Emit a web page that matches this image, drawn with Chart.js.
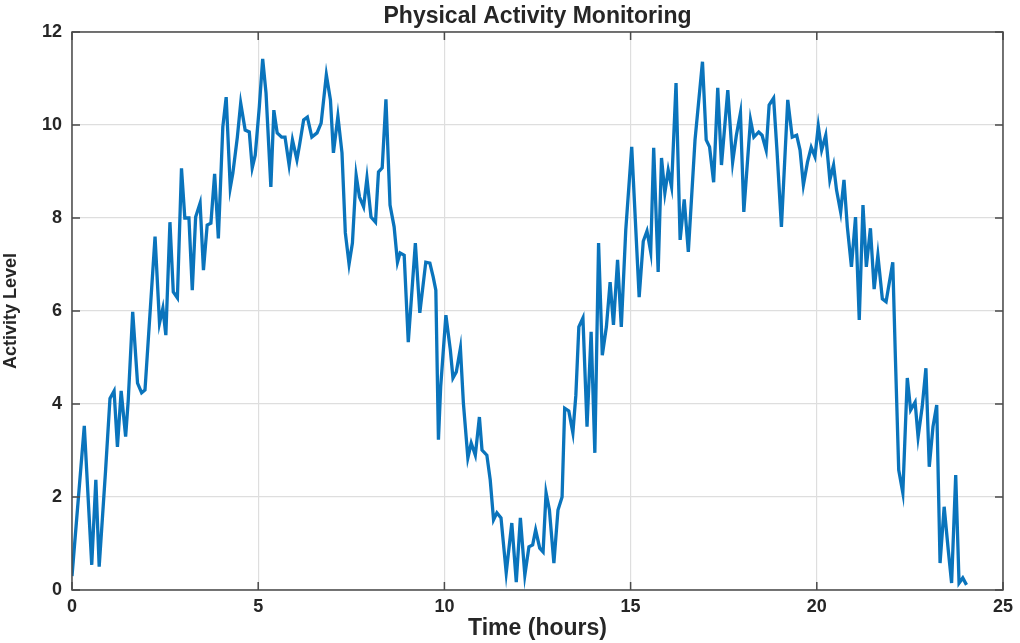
<!DOCTYPE html>
<html>
<head>
<meta charset="utf-8">
<script src="https://cdn.jsdelivr.net/npm/chart.js@4.4.1/dist/chart.umd.min.js"></script>
<style>
    html, body { margin: 0; padding: 0; background: #fff; }
    #wrap { width: 1020px; height: 643px; }
</style>
</head>
<body>
<div id="wrap"><canvas id="activityChart" width="1020" height="643"></canvas></div>
<script>
// time (hours) of each sample
const hours = [
    0.00, 0.33, 0.53, 0.64, 0.73, 0.90, 1.02, 1.13, 1.22, 1.32, 1.44, 1.51, 1.63, 1.76, 1.87, 1.96,
    2.23, 2.35, 2.44, 2.52, 2.63, 2.72, 2.83, 2.94, 3.03, 3.14, 3.23, 3.32, 3.44, 3.53, 3.63, 3.73,
    3.83, 3.93, 4.05, 4.14, 4.25, 4.32, 4.44, 4.53, 4.65, 4.76, 4.84, 4.92, 5.03, 5.12, 5.21, 5.34,
    5.42, 5.51, 5.63, 5.72, 5.83, 5.92, 6.04, 6.11, 6.22, 6.32, 6.44, 6.58, 6.69, 6.83, 6.94, 7.02,
    7.14, 7.25, 7.34, 7.44, 7.53, 7.63, 7.72, 7.83, 7.92, 8.03, 8.15, 8.23, 8.33, 8.43, 8.54, 8.65,
    8.74, 8.81, 8.92, 9.03, 9.22, 9.34, 9.50, 9.61, 9.70, 9.77, 9.84, 9.90, 10.04, 10.16, 10.23, 10.32,
    10.43, 10.51, 10.63, 10.72, 10.83, 10.94, 11.01, 11.14, 11.23, 11.32, 11.41, 11.52, 11.66, 11.81, 11.93, 12.04,
    12.16, 12.27, 12.37, 12.45, 12.56, 12.65, 12.73, 12.82, 12.94, 13.05, 13.16, 13.23, 13.34, 13.45, 13.53, 13.61,
    13.72, 13.83, 13.94, 14.04, 14.14, 14.24, 14.35, 14.45, 14.54, 14.65, 14.75, 14.87, 15.03, 15.23, 15.34, 15.44,
    15.54, 15.62, 15.74, 15.83, 15.92, 16.01, 16.10, 16.22, 16.33, 16.44, 16.55, 16.73, 16.93, 17.03, 17.12, 17.23,
    17.34, 17.44, 17.61, 17.74, 17.84, 17.95, 18.04, 18.22, 18.31, 18.44, 18.53, 18.64, 18.72, 18.84, 18.93, 19.05,
    19.22, 19.34, 19.46, 19.55, 19.64, 19.75, 19.85, 19.95, 20.04, 20.13, 20.24, 20.35, 20.45, 20.53, 20.64, 20.73,
    20.82, 20.93, 21.04, 21.14, 21.24, 21.33, 21.44, 21.54, 21.64, 21.76, 21.86, 22.04, 22.11, 22.20, 22.31, 22.43,
    22.52, 22.64, 22.72, 22.83, 22.93, 23.02, 23.12, 23.22, 23.31, 23.42, 23.53, 23.62, 23.73, 23.82, 23.92, 24.02
];

// activity level at each of those times
const activity = [
    0.30, 3.53, 0.54, 2.37, 0.50, 2.55, 4.12, 4.28, 3.08, 4.28, 3.30, 4.08, 5.98, 4.45, 4.24, 4.30,
    7.60, 5.74, 6.06, 5.48, 7.91, 6.41, 6.28, 9.07, 8.00, 8.00, 6.45, 8.02, 8.32, 6.88, 7.85, 7.89,
    8.95, 7.56, 9.96, 10.60, 8.65, 8.97, 9.74, 10.47, 9.89, 9.85, 9.08, 9.35, 10.39, 11.42, 10.69, 8.67,
    10.32, 9.83, 9.74, 9.74, 9.14, 9.68, 9.25, 9.57, 10.11, 10.17, 9.74, 9.83, 10.04, 11.08, 10.54, 9.40,
    10.19, 9.40, 7.68, 7.01, 7.46, 8.92, 8.45, 8.24, 8.86, 8.02, 7.91, 8.99, 9.08, 10.55, 8.28, 7.81,
    7.05, 7.25, 7.20, 5.33, 7.46, 5.96, 7.05, 7.03, 6.73, 6.45, 3.23, 4.37, 5.91, 5.16, 4.56, 4.69,
    5.20, 4.02, 2.84, 3.16, 2.90, 3.72, 3.01, 2.90, 2.37, 1.51, 1.66, 1.55, 0.37, 1.44, 0.17, 1.55,
    0.32, 0.93, 0.97, 1.29, 0.90, 0.82, 2.09, 1.72, 0.58, 1.72, 2.00, 3.91, 3.85, 3.38, 4.19, 5.66,
    5.85, 3.51, 5.55, 2.95, 7.46, 5.05, 5.66, 6.62, 5.70, 7.10, 5.66, 7.74, 9.53, 6.30, 7.50, 7.72,
    7.27, 9.51, 6.84, 9.29, 8.54, 9.03, 8.67, 10.90, 7.53, 8.40, 7.27, 9.68, 11.36, 9.68, 9.53, 8.77,
    10.80, 9.14, 10.75, 9.20, 9.78, 10.26, 8.13, 10.11, 9.74, 9.85, 9.78, 9.46, 10.43, 10.58, 9.46, 7.81,
    10.54, 9.74, 9.78, 9.46, 8.71, 9.20, 9.52, 9.32, 9.98, 9.46, 9.78, 8.82, 9.14, 8.60, 8.13, 8.82,
    7.81, 6.95, 8.02, 5.81, 8.28, 6.95, 7.78, 6.47, 7.20, 6.26, 6.20, 7.05, 5.01, 2.58, 2.09, 4.56,
    3.87, 4.04, 3.29, 3.94, 4.77, 2.65, 3.51, 3.98, 0.58, 1.79, 0.86, 0.15, 2.47, 0.15, 0.26, 0.11
];

const xTicks = [0, 5, 10, 15, 20, 25];
const yTicks = [0, 2, 4, 6, 8, 10, 12];
const chartTitle = 'Physical Activity Monitoring';

const textColor = '#262626';
const frameColor = '#4a4a4a';
const fontFamily = '"Liberation Sans", Arial, sans-serif';

// box around the axes, inward tick marks on all four sides, title centred on the axes (matlab look)
const boxPlugin = {
    id: 'box',
    afterDatasetsDraw(chart) {
        const { ctx, chartArea: a, scales } = chart;
        const len = 8;
        ctx.save();
        ctx.strokeStyle = frameColor;
        ctx.lineWidth = 1.5;
        ctx.strokeRect(a.left, a.top, a.right - a.left, a.bottom - a.top);
        ctx.beginPath();
        xTicks.forEach(v => {
            const px = scales.x.getPixelForValue(v);
            ctx.moveTo(px, a.bottom); ctx.lineTo(px, a.bottom - len);
            ctx.moveTo(px, a.top); ctx.lineTo(px, a.top + len);
        });
        yTicks.forEach(v => {
            const py = scales.y.getPixelForValue(v);
            ctx.moveTo(a.left, py); ctx.lineTo(a.left + len, py);
            ctx.moveTo(a.right, py); ctx.lineTo(a.right - len, py);
        });
        ctx.stroke();

        ctx.fillStyle = textColor;
        ctx.font = 'bold 23px ' + fontFamily;
        ctx.textAlign = 'center';
        ctx.textBaseline = 'middle';
        ctx.fillText(chartTitle, (a.left + a.right) / 2, 17);
        ctx.restore();
    }
};

const ctx = document.getElementById('activityChart').getContext('2d');
new Chart(ctx, {
    type: 'line',
    data: {
        datasets: [{
            data: hours.map((h, i) => ({ x: h, y: activity[i] })),
            borderColor: '#0A74BC',
            borderWidth: 3.3,
            pointRadius: 0,
            tension: 0,
            fill: false
        }]
    },
    options: {
        responsive: false,
        animation: false,
        layout: { padding: { top: 32, right: 17, bottom: 0, left: 0 } },
        plugins: {
            legend: { display: false },
            tooltip: { enabled: false },
            title: { display: false }
        },
        scales: {
            x: {
                type: 'linear',
                min: 0,
                max: 25,
                afterBuildTicks: s => { s.ticks = xTicks.map(v => ({ value: v })); },
                afterFit: s => { s.height = 53; },
                grid: { color: '#dedede', lineWidth: 1.2, drawTicks: false },
                border: { display: false },
                ticks: {
                    color: textColor,
                    padding: 6,
                    maxRotation: 0,
                    font: { family: fontFamily, size: 18, weight: 'bold' }
                },
                title: {
                    display: true,
                    text: 'Time (hours)',
                    color: textColor,
                    font: { family: fontFamily, size: 23, weight: 'bold' },
                    padding: { top: 0, bottom: 1 }
                }
            },
            y: {
                min: 0,
                max: 12,
                afterBuildTicks: s => { s.ticks = yTicks.map(v => ({ value: v })); },
                afterFit: s => { s.width = 72; },
                grid: { color: '#dedede', lineWidth: 1.2, drawTicks: false },
                border: { display: false },
                ticks: {
                    color: textColor,
                    padding: 10,
                    font: { family: fontFamily, size: 18, weight: 'bold' }
                },
                title: {
                    display: true,
                    text: 'Activity Level',
                    color: textColor,
                    font: { family: fontFamily, size: 18, weight: 'bold' },
                    padding: { top: 0, bottom: 9 }
                }
            }
        }
    },
    plugins: [boxPlugin]
});
</script>
</body>
</html>
